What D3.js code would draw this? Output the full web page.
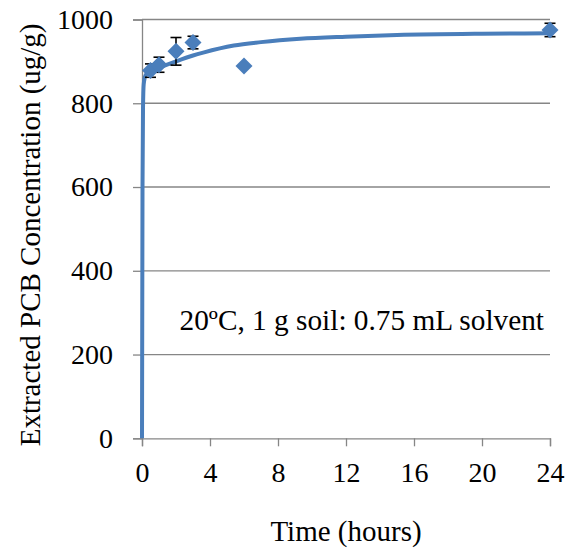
<!DOCTYPE html>
<html>
<head>
<meta charset="utf-8">
<script src="https://cdn.jsdelivr.net/npm/d3@7"></script>
<style>
    body { margin: 0; background: #fff; }
    svg text { font-family: "Times New Roman", "Liberation Serif", "DejaVu Serif", serif !important; fill: #000; }
</style>
</head>
<body>
<div id="content"></div>
<script>
// ******* DATA *******
// measured points (hours, ug/g) and their error bars
const timeHours = [0.5, 1, 2, 3, 6, 24];
const concentration = [878, 892, 924, 945, 889, 975];
const errorSize = [16, 18, 33, 15, 0, 16];

// fitted curve
const fitTime = [0, 0.03, 0.06, 0.1, 0.2, 0.35, 0.5, 1, 1.6, 2, 3, 3.6, 5.4, 7, 9.3, 12, 15, 20, 24];
const fitValue = [0, 600, 790, 845, 866, 873, 877, 885, 894, 900, 914, 921, 938, 946, 954, 959, 963, 966, 967];

const xTicks = [0, 4, 8, 12, 16, 20, 24];
const yTicks = [0, 200, 400, 600, 800, 1000];

const xTitle = "Time (hours)";
const yTitle = "Extracted PCB Concentration (ug/g)";
const note = "20ºC, 1 g soil: 0.75 mL solvent";

// ******* SETUP *******
const width = 576;
const height = 554;
const plot = { left: 142, right: 550, top: 19.5, bottom: 438.3 };

const blue = "#4a7ebb";
const gray = "#868686";
const serif = "'Times New Roman', 'Liberation Serif', serif";

const svg = d3.select("#content").append("svg")
    .attr("width", width)
    .attr("height", height);

const x = d3.scaleLinear().domain([0, 24]).range([plot.left, plot.right]);
const y = d3.scaleLinear().domain([0, 1000]).range([plot.bottom, plot.top]);

// ******* GRID + AXES *******
svg.append("g").selectAll("line")
    .data(yTicks.filter(d => d > 0))
    .join("line")
    .attr("x1", plot.left).attr("x2", plot.right)
    .attr("y1", d => y(d)).attr("y2", d => y(d))
    .attr("stroke", gray).attr("stroke-width", 1.3);

// y axis
const yAxis = svg.append("g")
    .attr("transform", `translate(${plot.left},0)`)
    .call(d3.axisLeft(y).tickValues(yTicks).tickFormat(d3.format("d")).tickSize(9).tickPadding(20));
yAxis.attr("font-family", serif).attr("font-size", 28);
yAxis.select(".domain").attr("stroke", gray).attr("stroke-width", 1.3);
yAxis.selectAll(".tick line").attr("stroke", gray).attr("stroke-width", 1.3);

// x axis
const xAxis = svg.append("g")
    .attr("transform", `translate(0,${plot.bottom})`)
    .call(d3.axisBottom(x).tickValues(xTicks).tickSize(8).tickPadding(16));
xAxis.attr("font-family", serif).attr("font-size", 28);
xAxis.select(".domain").attr("stroke", gray).attr("stroke-width", 1.3);
xAxis.selectAll(".tick line").attr("stroke", gray).attr("stroke-width", 1.3);

// titles
svg.append("text")
    .attr("x", (plot.left + plot.right) / 2)
    .attr("y", 541)
    .attr("text-anchor", "middle")
    .attr("font-size", 29)
    .text(xTitle);

svg.append("text")
    .attr("transform", `translate(40,${(plot.top + plot.bottom) / 2 + 6}) rotate(-90)`)
    .attr("text-anchor", "middle")
    .attr("font-size", 29)
    .text(yTitle);

// condition note inside the plot
svg.append("text")
    .attr("x", 544)
    .attr("y", 330)
    .attr("text-anchor", "end")
    .attr("font-size", 29.3)
    .text(note);

// ******* FIT CURVE *******
const fitLine = d3.line()
    .x((d, i) => x(fitTime[i]))
    .y(d => y(d))
    .curve(d3.curveMonotoneX);

svg.append("path")
    .datum(fitValue)
    .attr("d", fitLine)
    .attr("fill", "none")
    .attr("stroke", blue)
    .attr("stroke-width", 4);

// ******* ERROR BARS *******
const points = timeHours.map((t, i) => ({ t: t, v: concentration[i], e: errorSize[i] }));
const capHalf = 5.5;

const bars = svg.append("g").selectAll("g")
    .data(points.filter(d => d.e > 0))
    .join("g")
    .attr("stroke", "#000")
    .attr("stroke-width", 1.6);
bars.append("line")
    .attr("x1", d => x(d.t)).attr("x2", d => x(d.t))
    .attr("y1", d => y(d.v - d.e)).attr("y2", d => y(d.v + d.e));
bars.append("line")
    .attr("x1", d => x(d.t) - capHalf).attr("x2", d => x(d.t) + capHalf)
    .attr("y1", d => y(d.v + d.e)).attr("y2", d => y(d.v + d.e));
bars.append("line")
    .attr("x1", d => x(d.t) - capHalf).attr("x2", d => x(d.t) + capHalf)
    .attr("y1", d => y(d.v - d.e)).attr("y2", d => y(d.v - d.e));

// ******* MARKERS *******
const r = 8.5;
svg.append("g").selectAll("path")
    .data(points)
    .join("path")
    .attr("d", d => {
        const cx = x(d.t), cy = y(d.v);
        return `M${cx},${cy - r}L${cx + r},${cy}L${cx},${cy + r}L${cx - r},${cy}Z`;
    })
    .attr("fill", blue);
</script>
</body>
</html>
